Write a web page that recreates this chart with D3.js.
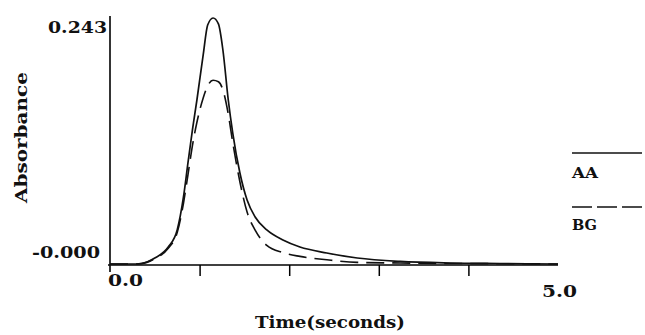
<!DOCTYPE html>
<html>
<head>
<meta charset="utf-8">
<script src="https://cdn.jsdelivr.net/npm/d3@7"></script>
<style>
  body { margin: 0; background: #fff; }
  text { font-family: "DejaVu Serif", "Liberation Serif", serif; font-weight: bold; fill: #111; }
</style>
</head>
<body>
<svg id="chart" width="645" height="335"></svg>
<script>
// time in seconds
const times = [0, 0.25, 0.35, 0.5, 0.65, 0.75, 0.82, 0.87, 0.92, 0.97, 1.04, 1.09, 1.15, 1.21, 1.26, 1.32, 1.37, 1.45, 1.53, 1.62, 1.75, 1.93, 2.12, 2.42, 2.76, 3.24, 3.8, 4.35, 5.0];
// atomic absorption signal
const aaValues = [0, 0, 0.0005, 0.0059, 0.0168, 0.0336, 0.0662, 0.0998, 0.1324, 0.162, 0.2065, 0.2361, 0.243, 0.2371, 0.2114, 0.162, 0.1294, 0.0899, 0.0632, 0.0464, 0.0336, 0.0237, 0.0168, 0.0109, 0.0059, 0.0025, 0.001, 0.0005, 0];
// background signal
const bgValues = [0, 0, 0.0004, 0.0053, 0.0155, 0.031, 0.06, 0.088, 0.117, 0.14, 0.164, 0.176, 0.1815, 0.18, 0.172, 0.148, 0.12, 0.081, 0.0513, 0.0334, 0.0184, 0.0112, 0.0075, 0.0042, 0.0016, 0.001, 0.0005, 0.0003, 0];

const yTickLabels = ["0.243", "-0.000"];
const xTickLabels = ["0.0", "5.0"];
const seriesNames = ["AA", "BG"];

const svg = d3.select("#chart");
svg.append("rect").attr("width", 645).attr("height", 335).attr("fill", "#fff");

const xScale = d3.scaleLinear().domain([0, 5]).range([110, 558]);
const yScale = d3.scaleLinear().domain([0, 0.243]).range([264, 18]);

// axes
const xAxis = d3.axisBottom(xScale).tickValues([1, 2, 3, 4]).tickSize(11).tickFormat("");
svg.append("g")
  .attr("transform", "translate(0,265)")
  .call(xAxis)
  .call(g => g.select(".domain").attr("d", "M108,0H558").attr("stroke-width", 1.7))
  .selectAll(".tick line").attr("stroke-width", 1.5);

svg.append("line")
  .attr("x1", 110).attr("x2", 110)
  .attr("y1", 16).attr("y2", 272)
  .attr("stroke", "#111").attr("stroke-width", 1.7);

// tick labels
const label = (txt, x, y, len, size) => svg.append("text").text(txt)
  .attr("x", x).attr("y", y).attr("font-size", size)
  .attr("textLength", len).attr("lengthAdjust", "spacingAndGlyphs");

label(yTickLabels[0], 48, 33, 59, 16);
label(yTickLabels[1], 32, 258, 68, 16);
label(xTickLabels[0], 108, 286, 35, 16);
label(xTickLabels[1], 542, 297, 35, 16);

// axis titles
label("Time(seconds)", 255, 328, 150, 16);
svg.append("text").text("Absorbance")
  .attr("transform", "translate(27,203) rotate(-90)")
  .attr("font-size", 16)
  .attr("textLength", 131).attr("lengthAdjust", "spacingAndGlyphs");

// curves
const line = (vals) => d3.line()
  .x((d, i) => xScale(times[i]))
  .y(d => yScale(d))
  .curve(d3.curveMonotoneX)(vals);

svg.append("path")
  .attr("d", line(bgValues))
  .attr("fill", "none").attr("stroke", "#111").attr("stroke-width", 1.6)
  .attr("stroke-dasharray", "18,8");

svg.append("path")
  .attr("d", line(aaValues))
  .attr("fill", "none").attr("stroke", "#111").attr("stroke-width", 1.7);

// legend
svg.append("line").attr("x1", 572).attr("x2", 642).attr("y1", 153).attr("y2", 153)
  .attr("stroke", "#111").attr("stroke-width", 1.5);
label(seriesNames[0], 572, 178, 26, 14);
svg.append("line").attr("x1", 572).attr("x2", 642).attr("y1", 207).attr("y2", 207)
  .attr("stroke", "#111").attr("stroke-width", 1.5).attr("stroke-dasharray", "20,5");
label(seriesNames[1], 572, 230, 25, 14);
</script>
</body>
</html>
